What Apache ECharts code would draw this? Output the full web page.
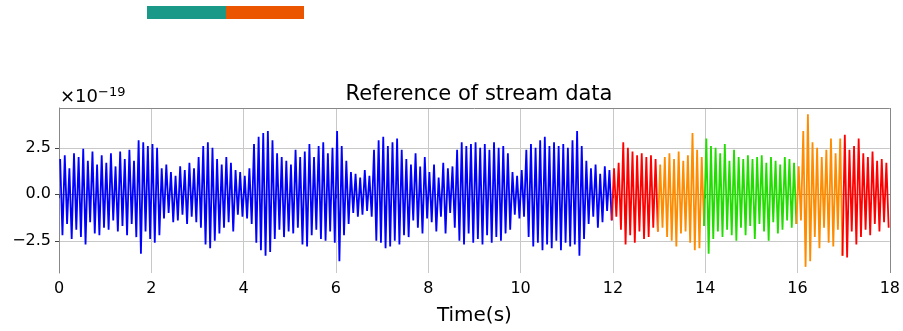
<!DOCTYPE html>
<html>
<head>
<meta charset="utf-8">
<script src="https://cdn.jsdelivr.net/npm/echarts@6/dist/echarts.min.js"></script>
<style>
html, body { margin: 0; padding: 0; background: #fff; }
#main { width: 903px; height: 331px; }
</style>
</head>
<body>
<div id="main"></div>
<script>
// signal extremes, in units of 1e-19, 20 samples per second
var blueVals = [
    1.9,-2.2,2.1,-1.6,1.4,-2.4,2.2,-1.9,2.0,-2.3,2.45,-2.7,1.8,-1.5,2.3,-2.1,1.6,-2.2,2.1,-1.8,
    1.7,-1.9,2.2,-1.4,1.5,-2.0,2.3,-1.7,1.9,-2.2,2.4,-1.6,1.8,-2.3,2.9,-3.2,2.8,-2.0,2.6,-2.4,
    2.7,-2.6,2.5,-2.2,1.4,-1.3,1.6,-1.0,1.2,-1.5,1.0,-1.4,1.5,-1.1,1.3,-1.6,1.7,-1.2,1.4,-1.5,
    2.0,-1.8,2.6,-2.7,2.8,-2.9,2.5,-2.5,1.9,-2.1,1.6,-1.8,2.0,-1.5,1.7,-2.0,1.3,-1.1,1.2,-1.2,
    1.0,-1.3,1.4,-1.6,2.7,-2.6,3.1,-3.0,3.3,-3.3,3.4,-3.1,2.9,-2.4,2.2,-1.9,2.0,-2.3,1.8,-2.0,
    1.6,-2.1,2.4,-1.8,2.0,-2.7,2.3,-2.8,2.7,-2.2,2.0,-1.9,2.6,-2.4,2.8,-2.5,2.2,-2.0,2.5,-2.6,
    3.4,-3.6,2.6,-2.2,1.8,-1.6,1.2,-1.0,1.1,-1.2,0.9,-1.1,1.3,-0.9,1.0,-1.2,2.4,-2.5,2.9,-2.6,
    3.1,-2.9,2.6,-2.8,2.8,-2.5,3.0,-2.7,2.4,-2.2,1.9,-2.3,1.6,-1.4,2.2,-1.8,1.5,-2.1,2.0,-1.3,
    1.2,-1.5,1.6,-2.0,0.9,-1.2,1.7,-2.1,1.4,-1.0,1.5,-1.8,2.4,-2.5,2.8,-2.7,2.6,-2.1,2.7,-2.6,
    2.8,-2.4,2.5,-2.7,2.7,-2.2,2.4,-2.6,2.8,-2.3,2.5,-2.5,2.6,-2.1,2.2,-1.9,1.2,-1.1,1.0,-1.3,
    1.3,-1.2,2.4,-2.3,2.7,-2.8,2.5,-2.6,2.9,-3.0,3.1,-2.7,2.6,-2.9,2.8,-2.5,2.6,-3.0,2.7,-2.6,
    2.5,-2.8,2.9,-2.7,3.4,-3.3,2.6,-2.4,1.8,-1.6,1.4,-1.2,1.6,-1.8,1.1,-1.5,1.5,-0.9,1.3,-1.4
];
var red1Vals = [1.4,-1.2,1.7,-1.9,2.8,-2.7,2.5,-2.2,2.3,-2.6,2.1,-2.0,2.2,-2.4,2.0,-2.3,2.1,-1.8,1.9,-2.0];
var orange1Vals = [1.6,-1.8,2.0,-2.3,2.2,-2.5,1.9,-2.8,2.3,-2.1,1.8,-2.0,2.1,-2.6,3.3,-3.0,2.4,-2.9,2.0,-1.7];
var greenVals = [
    3.0,-3.2,2.6,-2.4,2.5,-2.0,2.2,-2.3,2.7,-1.9,1.8,-2.2,2.4,-2.5,2.0,-1.8,1.9,-2.2,2.1,-1.7,
    1.9,-2.4,2.0,-1.6,2.1,-2.0,1.7,-2.5,2.0,-1.5,1.8,-2.1,1.6,-1.9,2.0,-1.4,1.9,-1.8,1.7,-1.6
];
var orange2Vals = [1.5,-1.4,3.4,-3.9,4.3,-3.6,2.8,-2.3,2.5,-2.9,2.0,-1.8,2.4,-2.6,3.0,-2.8,2.2,-1.9,3.0,-3.3];
var red2Vals = [3.2,-3.4,2.4,-2.0,2.6,-2.7,3.0,-2.3,2.2,-1.9,2.0,-2.2,2.3,-1.6,1.8,-2.0,1.9,-1.5,1.7,-1.8];

var segments = [
    {start: 0, end: 12, vals: blueVals, color: '#0000ff'},
    {start: 12, end: 13, vals: red1Vals, color: '#ff0000'},
    {start: 13, end: 14, vals: orange1Vals, color: '#ff8c00'},
    {start: 14, end: 16, vals: greenVals, color: '#22dd00'},
    {start: 16, end: 17, vals: orange2Vals, color: '#ff8c00'},
    {start: 17, end: 18, vals: red2Vals, color: '#ff0000'}
];
var xTicks = [0, 2, 4, 6, 8, 10, 12, 14, 16, 18];
var yTicks = [-2.5, 0, 2.5];

var series = [];
var prev = null;
segments.forEach(function (s) {
    var dt = (s.end - s.start) / s.vals.length;
    var data = [];
    if (prev) data.push(prev);
    s.vals.forEach(function (v, i) {
        data.push([s.start + (i + 0.5) * dt, v]);
    });
    prev = data[data.length - 1];
    series.push({
        type: 'line',
        data: data,
        showSymbol: false,
        animation: false,
        lineStyle: {color: s.color, width: 1.8},
        z: 3
    });
});

function fmt(v) {
    return v.toFixed(1).replace('-', '\u2212');
}

var myChart = echarts.init(document.getElementById('main'));
myChart.setOption({
    backgroundColor: '#fff',
    animation: false,
    textStyle: {fontFamily: 'DejaVu Sans'},
    grid: {left: 59, right: 13, top: 108, bottom: 58},
    title: {
        text: 'Reference of stream data',
        left: 474, top: 79, textAlign: 'center',
        textStyle: {fontFamily: 'DejaVu Sans', fontSize: 21, fontWeight: 'normal', color: '#000'}
    },
    graphic: [
        {type: 'rect', shape: {x: 147, y: 6, width: 79, height: 13}, style: {fill: '#1a9988'}},
        {type: 'rect', shape: {x: 226, y: 6, width: 78, height: 13}, style: {fill: '#eb5500'}},
        {type: 'text', left: 60, top: 86, style: {
            text: '×10{s|−19}', fill: '#000', font: '18px DejaVu Sans',
            rich: {s: {fontSize: 13, verticalAlign: 'top', padding: [0, 0, 10, 0], fill: '#000', fontFamily: 'DejaVu Sans'}}
        }}
    ],
    xAxis: {
        type: 'value', min: 0, max: 18, interval: 2,
        name: 'Time(s)', nameLocation: 'middle', nameGap: 33,
        nameTextStyle: {fontSize: 20, color: '#000', fontFamily: 'DejaVu Sans'},
        axisLine: {show: true, lineStyle: {color: '#888', width: 1}},
        axisTick: {show: true, length: 4, lineStyle: {color: '#444'}},
        axisLabel: {fontSize: 16, color: '#000', margin: 8, fontFamily: 'DejaVu Sans',
            customValues: xTicks},
        splitLine: {show: true, lineStyle: {color: '#c8c8c8', width: 1}}
    },
    yAxis: {
        type: 'value', min: -4.23, max: 4.64,
        axisLine: {show: true, lineStyle: {color: '#888', width: 1}},
        axisTick: {show: true, length: 4, lineStyle: {color: '#444'}, customValues: yTicks},
        axisLabel: {fontSize: 16, color: '#000', margin: 8, fontFamily: 'DejaVu Sans',
            customValues: yTicks, formatter: fmt},
        splitLine: {show: true, lineStyle: {color: '#c8c8c8', width: 1}}
    },
    series: series.concat([{
        type: 'line', data: [], silent: true,
        markLine: {
            silent: true, symbol: 'none', label: {show: false}, animation: false,
            lineStyle: {color: '#888', type: 'solid', width: 1},
            data: [{yAxis: 4.64}, {xAxis: 18}]
        }
    }])
});
</script>
</body>
</html>
